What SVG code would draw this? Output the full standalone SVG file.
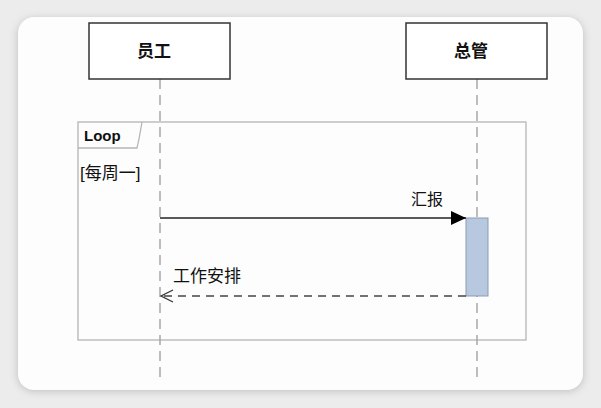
<svg xmlns="http://www.w3.org/2000/svg" width="601" height="408" viewBox="0 0 601 408">
<defs>
<style>
.t{font-family:"Liberation Sans","Noto Sans CJK SC",sans-serif;fill:#111;}
.life{stroke:#a8a8a8;stroke-width:1.5;stroke-dasharray:10,6;fill:none;}
.box{fill:#fff;stroke:#333;stroke-width:1.5;}
</style>
<filter id="sh" x="-10%" y="-10%" width="120%" height="120%">
<feGaussianBlur stdDeviation="4"/>
</filter>
<marker id="fill" markerWidth="16" markerHeight="14" refX="15" refY="7" orient="auto" markerUnits="userSpaceOnUse">
<path d="M0,0 L15,7 L0,14 Z" fill="#000"/>
</marker>
<marker id="open" markerWidth="16" markerHeight="14" refX="13" refY="7" orient="auto" markerUnits="userSpaceOnUse">
<path d="M1,1 L13,7 L1,13" fill="none" stroke="#333" stroke-width="1.3"/>
</marker>
</defs>
<rect width="601" height="408" fill="#ececec"/>
<rect x="18" y="19" width="565" height="372" rx="16" fill="#bdbdbd" filter="url(#sh)"/>
<rect x="18" y="17" width="565" height="373" rx="16" fill="#fdfdfd"/>
<g id="loop">
<rect x="78" y="122" width="448" height="218" fill="none" stroke="#b5b5b5" stroke-width="1.3"/>
<path d="M78,148 L137,148 Q139,140 142,122" fill="none" stroke="#b5b5b5" stroke-width="1.3"/>
<text class="t" x="84" y="141" font-size="15" font-weight="bold">Loop</text>
<text class="t" x="80" y="179" font-size="17">[每周一]</text>
</g>
<g id="lifelines">
<line class="life" x1="160" y1="79" x2="160" y2="381"/>
<line class="life" x1="477" y1="79" x2="477" y2="381"/>
</g>
<g id="node-yuangong">
<rect class="box" x="89" y="23" width="141" height="56"/>
<text class="t" x="154" y="57" font-size="17" font-weight="bold" text-anchor="middle">员工</text>
</g>
<g id="node-zongguan">
<rect class="box" x="406" y="23" width="141" height="56"/>
<text class="t" x="471" y="57" font-size="17" font-weight="bold" text-anchor="middle">总管</text>
</g>
<g id="activation">
<rect x="466" y="218" width="22" height="78" fill="#b8c8de" stroke="#8a9bb5" stroke-width="1"/>
</g>
<g id="connectors">
<line x1="160" y1="218" x2="466" y2="218" stroke="#222" stroke-width="1.6" marker-end="url(#fill)"/>
<line x1="466" y1="296" x2="161" y2="296" stroke="#444" stroke-width="1.4" stroke-dasharray="8,6" marker-end="url(#open)"/>
<text class="t" x="411" y="205" font-size="16">汇报</text>
<text class="t" x="173" y="282" font-size="17">工作安排</text>
</g>
</svg>
